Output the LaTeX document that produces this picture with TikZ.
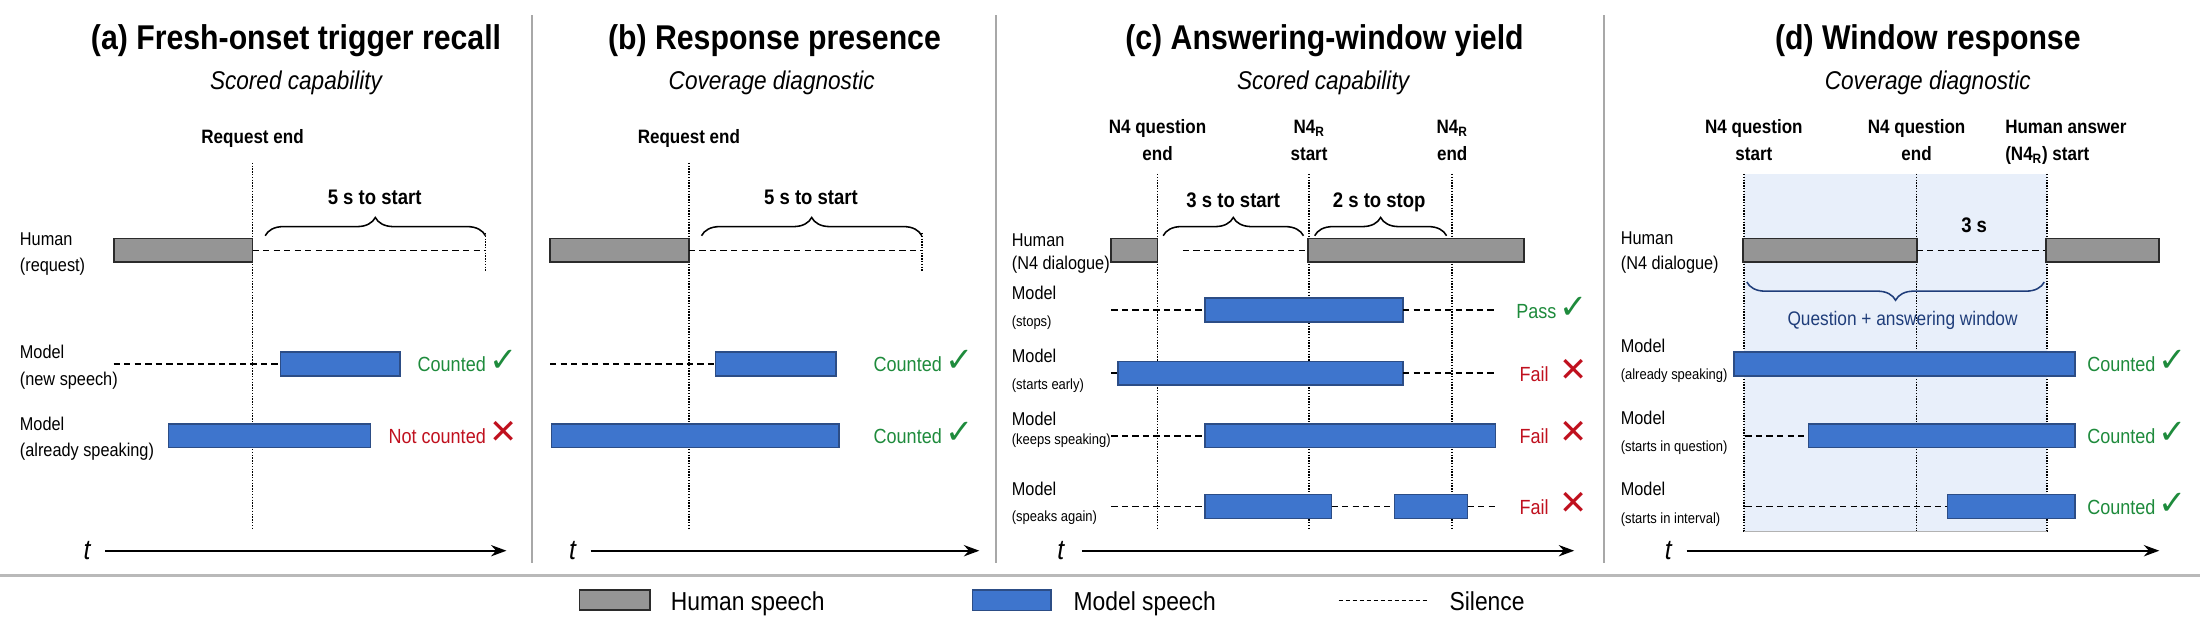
\documentclass[tikz,border=0pt]{standalone}
\usepackage{fontspec}
\setmainfont{Liberation Sans}[FakeStretch=0.88]
\newfontfamily\symf{DejaVu Sans}
\usetikzlibrary{decorations.pathreplacing,arrows.meta}
\definecolor{humanfill}{HTML}{959595}
\definecolor{humanline}{HTML}{2B2B2B}
\definecolor{modelfill}{HTML}{3E75CD}
\definecolor{modelline}{HTML}{2C4D86}
\definecolor{okgreen}{HTML}{1E8B3C}
\definecolor{badred}{HTML}{C0101E}
\definecolor{navy}{HTML}{1F3D7A}
\definecolor{winshade}{HTML}{E8EFFA}
\definecolor{divgray}{HTML}{A8A8A8}
\newcommand\okmark{{\fontsize{24}{24}\selectfont\symf ✓}}
\newcommand\badmark{{\fontsize{24}{24}\selectfont\symf ✕}}
\newcommand\HumanBar[3]{\draw[humanbar] (#1,#3-8.5) rectangle (#2,#3+8.5);}
\newcommand\ModelBar[3]{\draw[modelbar] (#1,#3-8.5) rectangle (#2,#3+8.5);}
\newcommand\Sil[3]{\draw[silence] (#1,#3) -- (#2,#3);}
\begin{document}
\begin{tikzpicture}[x=1pt,y=-1pt,
  title/.style={font=\fontsize{24.5}{28}\selectfont\bfseries, inner sep=0, anchor=base},
  subtitle/.style={font=\fontsize{18.3}{22}\selectfont\itshape, inner sep=0, anchor=base},
  collabel/.style={font=\fontsize{13.8}{19.5}\selectfont\bfseries, inner sep=0, anchor=base},
  bracelabel/.style={font=\fontsize{15}{18}\selectfont\bfseries, inner sep=0, anchor=base},
  rowlabel/.style={font=\fontsize{13.2}{16}\selectfont, inner sep=0, anchor=base west},
  sublabel/.style={font=\fontsize{10.5}{12}\selectfont, inner sep=0, anchor=base west},
  verdict/.style={font=\fontsize{14.6}{18}\selectfont, inner sep=0, anchor=base east},
  humanbar/.style={fill=humanfill, draw=humanline, line width=1.3pt},
  modelbar/.style={fill=modelfill, draw=modelline, line width=1.1pt},
  silence/.style={dash pattern=on 4.5pt off 3pt, line width=1.3pt},
  marker/.style={dash pattern=on 1pt off 1pt, line width=1pt},
  divider/.style={draw=divgray, line width=1.6pt},
  axis/.style={line width=1.6pt, -{Stealth[length=11pt,width=8pt]}},
  tlabel/.style={font=\fontsize{20}{20}\selectfont\itshape, inner sep=0, anchor=base},
  bracestyle/.style={decorate, decoration={brace, amplitude=13pt, aspect=0.5}, line width=1.1pt},
  legendtext/.style={font=\fontsize{18.5}{20}\selectfont, inner sep=0, anchor=base west}]
\fill[white] (0,0) rectangle (1568,442.6);
\useasboundingbox (0,0) rectangle (1568,442.6);

% ---------- dividers ----------
\draw[divider] (379,11) -- (379,401);
\draw[divider] (710,11) -- (710,401);
\draw[divider] (1143,11) -- (1143,401);
\draw[draw=gray!55, line width=2pt] (0,410) -- (1568,410);

% ================= Panel (a) =================
\node[title] (ta) at (211,35) {(a) Fresh-onset trigger recall};
\node[subtitle] (sa) at (211,63.5) {Scored capability};
\node[collabel] (ra) at (180,102) {Request end};
\draw[marker] (180,116) -- (180,378);
\draw[marker] (346,166) -- (346,194);
\draw[bracestyle] (189,168) -- (346,168);
\node[bracelabel] (ba) at (267,146) {5 s to start};
\node[rowlabel] (ha1) at (14,175.3) {Human};
\node[rowlabel] (ha2) at (14,193.6) {(request)};
\HumanBar{81}{180}{178.5}
\Sil{180}{346}{178.5}
\node[rowlabel] (ma1) at (14,255.4) {Model};
\node[rowlabel] (ma2) at (14,274.4) {(new speech)};
\Sil{81}{200}{259.5}
\ModelBar{200}{285}{259.5}
\node[verdict, text=okgreen] (va1) at (369,265) {Counted\,\okmark};
\node[rowlabel] (ma3) at (14,306.5) {Model};
\node[rowlabel] (ma4) at (14,325.5) {(already speaking)};
\ModelBar{120}{264}{310.5}
\node[verdict, text=badred] (va2) at (369,316) {Not counted\,\badmark};
\node[tlabel] (tla) at (62,399) {t};
\coordinate (axa0) at (75,392.5);
\coordinate (axa1) at (361,392.5);
\draw[axis] (axa0) -- (axa1);

% ================= Panel (b) =================
\node[title] (tb) at (552,35) {(b) Response presence};
\node[subtitle] (sb) at (550,63.5) {Coverage diagnostic};
\node[collabel] (rb) at (491,102) {Request end};
\draw[marker] (491,116) -- (491,378);
\draw[marker] (657,166) -- (657,194);
\draw[bracestyle] (500,168) -- (657,168);
\node[bracelabel] (bb) at (578,146) {5 s to start};
\HumanBar{392}{491}{178.5}
\Sil{491}{657}{178.5}
\Sil{392}{510}{259.5}
\ModelBar{510}{596}{259.5}
\node[verdict, text=okgreen] (vb1) at (694,265) {Counted\,\okmark};
\ModelBar{393}{598}{310.5}
\node[verdict, text=okgreen] (vb2) at (694,316) {Counted\,\okmark};
\node[tlabel] (tlb) at (408,399) {t};
\coordinate (axb0) at (421,392.5);
\coordinate (axb1) at (698,392.5);
\draw[axis] (axb0) -- (axb1);

% ================= Panel (c) =================
\node[title] (tc) at (944,35) {(c) Answering-window yield};
\node[subtitle] (sc) at (943,63.5) {Scored capability};
\node[collabel] (qc1) at (825,95) {N4 question};
\node[collabel] (qc2) at (825,114.5) {end};
\node[collabel] (qc3) at (933,95) {N4\textsubscript{R}};
\node[collabel] (qc4) at (933,114.5) {start};
\node[collabel] (qc5) at (1035,95) {N4\textsubscript{R}};
\node[collabel] (qc6) at (1035,114.5) {end};
\draw[marker] (825,124) -- (825,378);
\draw[marker] (933,124) -- (933,378);
\draw[marker] (1035,124) -- (1035,378);
\draw[bracestyle] (829,168) -- (929,168);
\draw[bracestyle] (937,168) -- (1031,168);
\node[bracelabel] (bc1) at (879,148) {3 s to start};
\node[bracelabel] (bc2) at (983,148) {2 s to stop};
\node[rowlabel] (hc1) at (721,175.8) {Human};
\node[rowlabel] (hc2) at (721,192.4) {(N4 dialogue)};
\HumanBar{792}{825}{178.5}
\Sil{843}{932}{178.5}
\HumanBar{932}{1086}{178.5}
% stops
\node[rowlabel] (mc1) at (721,213.8) {Model};
\node[sublabel] (mc2) at (721,233) {(stops)};
\Sil{792}{859}{221}
\ModelBar{859}{1000}{221}
\Sil{1000}{1066}{221}
\node[verdict, text=okgreen] (vc1) at (1132,227) {Pass\,\okmark};
% starts early
\node[rowlabel] (mc3) at (721,258.5) {Model};
\node[sublabel] (mc4) at (721,277.4) {(starts early)};
\Sil{792}{797}{266}
\ModelBar{797}{1000}{266}
\Sil{1000}{1066}{266}
\node[verdict, text=badred] (vc2) at (1132,272) {Fail\hspace{8pt}\badmark};
% keeps speaking
\node[rowlabel] (mc5) at (721,303) {Model};
\node[sublabel] (mc6) at (721,316.5) {(keeps speaking)};
\Sil{792}{859}{310.5}
\ModelBar{859}{1066}{310.5}
\node[verdict, text=badred] (vc3) at (1132,316) {Fail\hspace{8pt}\badmark};
% speaks again
\node[rowlabel] (mc7) at (721,352.9) {Model};
\node[sublabel] (mc8) at (721,371.8) {(speaks again)};
\Sil{792}{859}{361}
\ModelBar{859}{949}{361}
\Sil{949}{994}{361}
\ModelBar{994}{1046}{361}
\Sil{1046}{1066}{361}
\node[verdict, text=badred] (vc4) at (1132,367) {Fail\hspace{8pt}\badmark};
\node[tlabel] (tlc) at (756,399) {t};
\coordinate (axc0) at (771,392.5);
\coordinate (axc1) at (1122,392.5);
\draw[axis] (axc0) -- (axc1);

% ================= Panel (d) =================
\node[title] (td) at (1374,35) {(d) Window response};
\node[subtitle] (sd) at (1374,63.5) {Coverage diagnostic};
\fill[winshade] (1243,124) rectangle (1459,379);
\node[collabel] (qd1) at (1250,95) {N4 question};
\node[collabel] (qd2) at (1250,114.5) {start};
\node[collabel] (qd3) at (1366,95) {N4 question};
\node[collabel] (qd4) at (1366,114.5) {end};
\node[collabel, anchor=base west] (qd5) at (1429,95) {Human answer};
\node[collabel, anchor=base west] (qd6) at (1429,114.5) {(N4\textsubscript{R}) start};
\draw[marker] (1243,124) -- (1243,379);
\draw[marker] (1366,124) -- (1366,379);
\draw[marker] (1459,124) -- (1459,379);
\draw[draw=gray!60, line width=0.6pt] (1243,379) -- (1459,379);
\node[bracelabel] (bd1) at (1407,166) {3 s};
\node[rowlabel] (hd1) at (1155,174.6) {Human};
\node[rowlabel] (hd2) at (1155,192.4) {(N4 dialogue)};
\HumanBar{1242}{1366}{178.5}
\Sil{1366}{1458}{178.5}
\HumanBar{1458}{1539}{178.5}
\draw[bracestyle, draw=navy] (1457,201) -- (1245,201);
\node[font=\fontsize{14}{16}\selectfont, text=navy, inner sep=0, anchor=base] (wd) at (1356,232) {Question + answering window};
% already speaking
\node[rowlabel] (md1) at (1155,251.4) {Model};
\node[sublabel] (md2) at (1155,270.8) {(already speaking)};
\ModelBar{1236}{1479}{259.5}
\node[verdict, text=okgreen] (vd1) at (1559,265) {Counted\,\okmark};
% starts in question
\node[rowlabel] (md3) at (1155,302.2) {Model};
\node[sublabel] (md4) at (1155,322) {(starts in question)};
\Sil{1244}{1289}{310.5}
\ModelBar{1289}{1479}{310.5}
\node[verdict, text=okgreen] (vd2) at (1559,316) {Counted\,\okmark};
% starts in interval
\node[rowlabel] (md5) at (1155,352.9) {Model};
\node[sublabel] (md6) at (1155,372.9) {(starts in interval)};
\Sil{1244}{1388}{361}
\ModelBar{1388}{1479}{361}
\node[verdict, text=okgreen] (vd3) at (1559,367) {Counted\,\okmark};
\node[tlabel] (tld) at (1189,399) {t};
\coordinate (axd0) at (1202,392.5);
\coordinate (axd1) at (1539,392.5);
\draw[axis] (axd0) -- (axd1);

% ================= Legend =================
\draw[humanbar] (413,420.5) rectangle (463,435);
\node[legendtext] (lh) at (478,434.8) {Human speech};
\draw[modelbar] (693,420.5) rectangle (749,435);
\node[legendtext] (lm) at (765,434.8) {Model speech};
\coordinate (ls0) at (954,428);
\coordinate (ls1) at (1017,428);
\draw[dash pattern=on 3pt off 2pt, line width=1pt] (ls0) -- (ls1);
\node[legendtext] (lsil) at (1033,434.8) {Silence};
\end{tikzpicture}
\end{document}
